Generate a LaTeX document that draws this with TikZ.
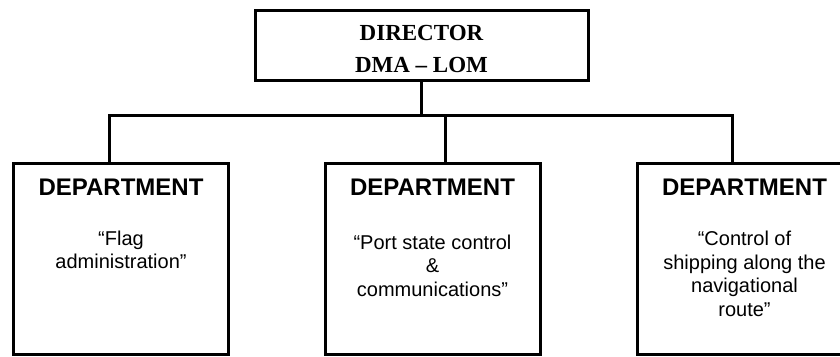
\documentclass[tikz,border=0pt]{standalone}
\usepackage{fontspec}
\setmainfont{Liberation Sans}
\newfontfamily\dirfont{Liberation Serif}
\usepackage{tikz}
\usetikzlibrary{ calc, positioning }
\tikzset{
x=1pt, y=-1pt, % pixel-like coordinates, y going down
line/.style={line width=3pt}, % every box edge and connector
box/.style={draw, line width=3pt, inner sep=0pt, minimum width=215pt, minimum height=190.5pt},
dirbox/.style={draw, line width=3pt, inner sep=0pt, minimum width=333pt, minimum height=70pt},
head/.style={inner sep=0pt, anchor=base, font=\bfseries\fontsize{24}{28}\selectfont},
body/.style={inner sep=0pt, anchor=base, align=center, font=\fontsize{20}{23.5}\selectfont}, % base = last line
}

\begin{document}
\begin{tikzpicture}
  \useasboundingbox (0,0) rectangle (840,356);

  \node[dirbox] (dir) at (421.5,45) {};
  \node[inner sep=0pt, anchor=base, align=center, font=\dirfont\bfseries\fontsize{23}{32}\selectfont]
    at ($(dir.north)+(0,64)$) {DIRECTOR\\DMA – LOM};

  \node[box] (flag) at (121,258.75) {};
  \node[box] (port) at (432.5,258.75) {};
  \node[box] (ship) at (744.5,258.75) {};

  \node[head] at ($(flag.north)+(0,33.5)$) {DEPARTMENT};
  \node[head] at ($(port.north)+(0,33.5)$) {DEPARTMENT};
  \node[head] at ($(ship.north)+(0,33.5)$) {DEPARTMENT};

  \node[body] at ($(flag.north)+(0,106.5)$) {“Flag\\administration”};
  \node[body] at ($(port.north)+(0,134)$) {“Port state control\\\&\\communications”};
  \node[body] at ($(ship.north)+(0,154)$) {“Control of\\shipping along the\\navigational\\route”};

  \coordinate (jl) at (109,115);
  \coordinate (jm) at (445,115);
  \coordinate (jr) at (732.5,115);

  \draw[line] (dir.south) -- (dir.south |- jl);
  \draw[line] (jl |- flag.north) -- (jl) -- (jr) -- (jr |- ship.north);
  \draw[line] (jm) -- (jm |- port.north);
\end{tikzpicture}
\end{document}
